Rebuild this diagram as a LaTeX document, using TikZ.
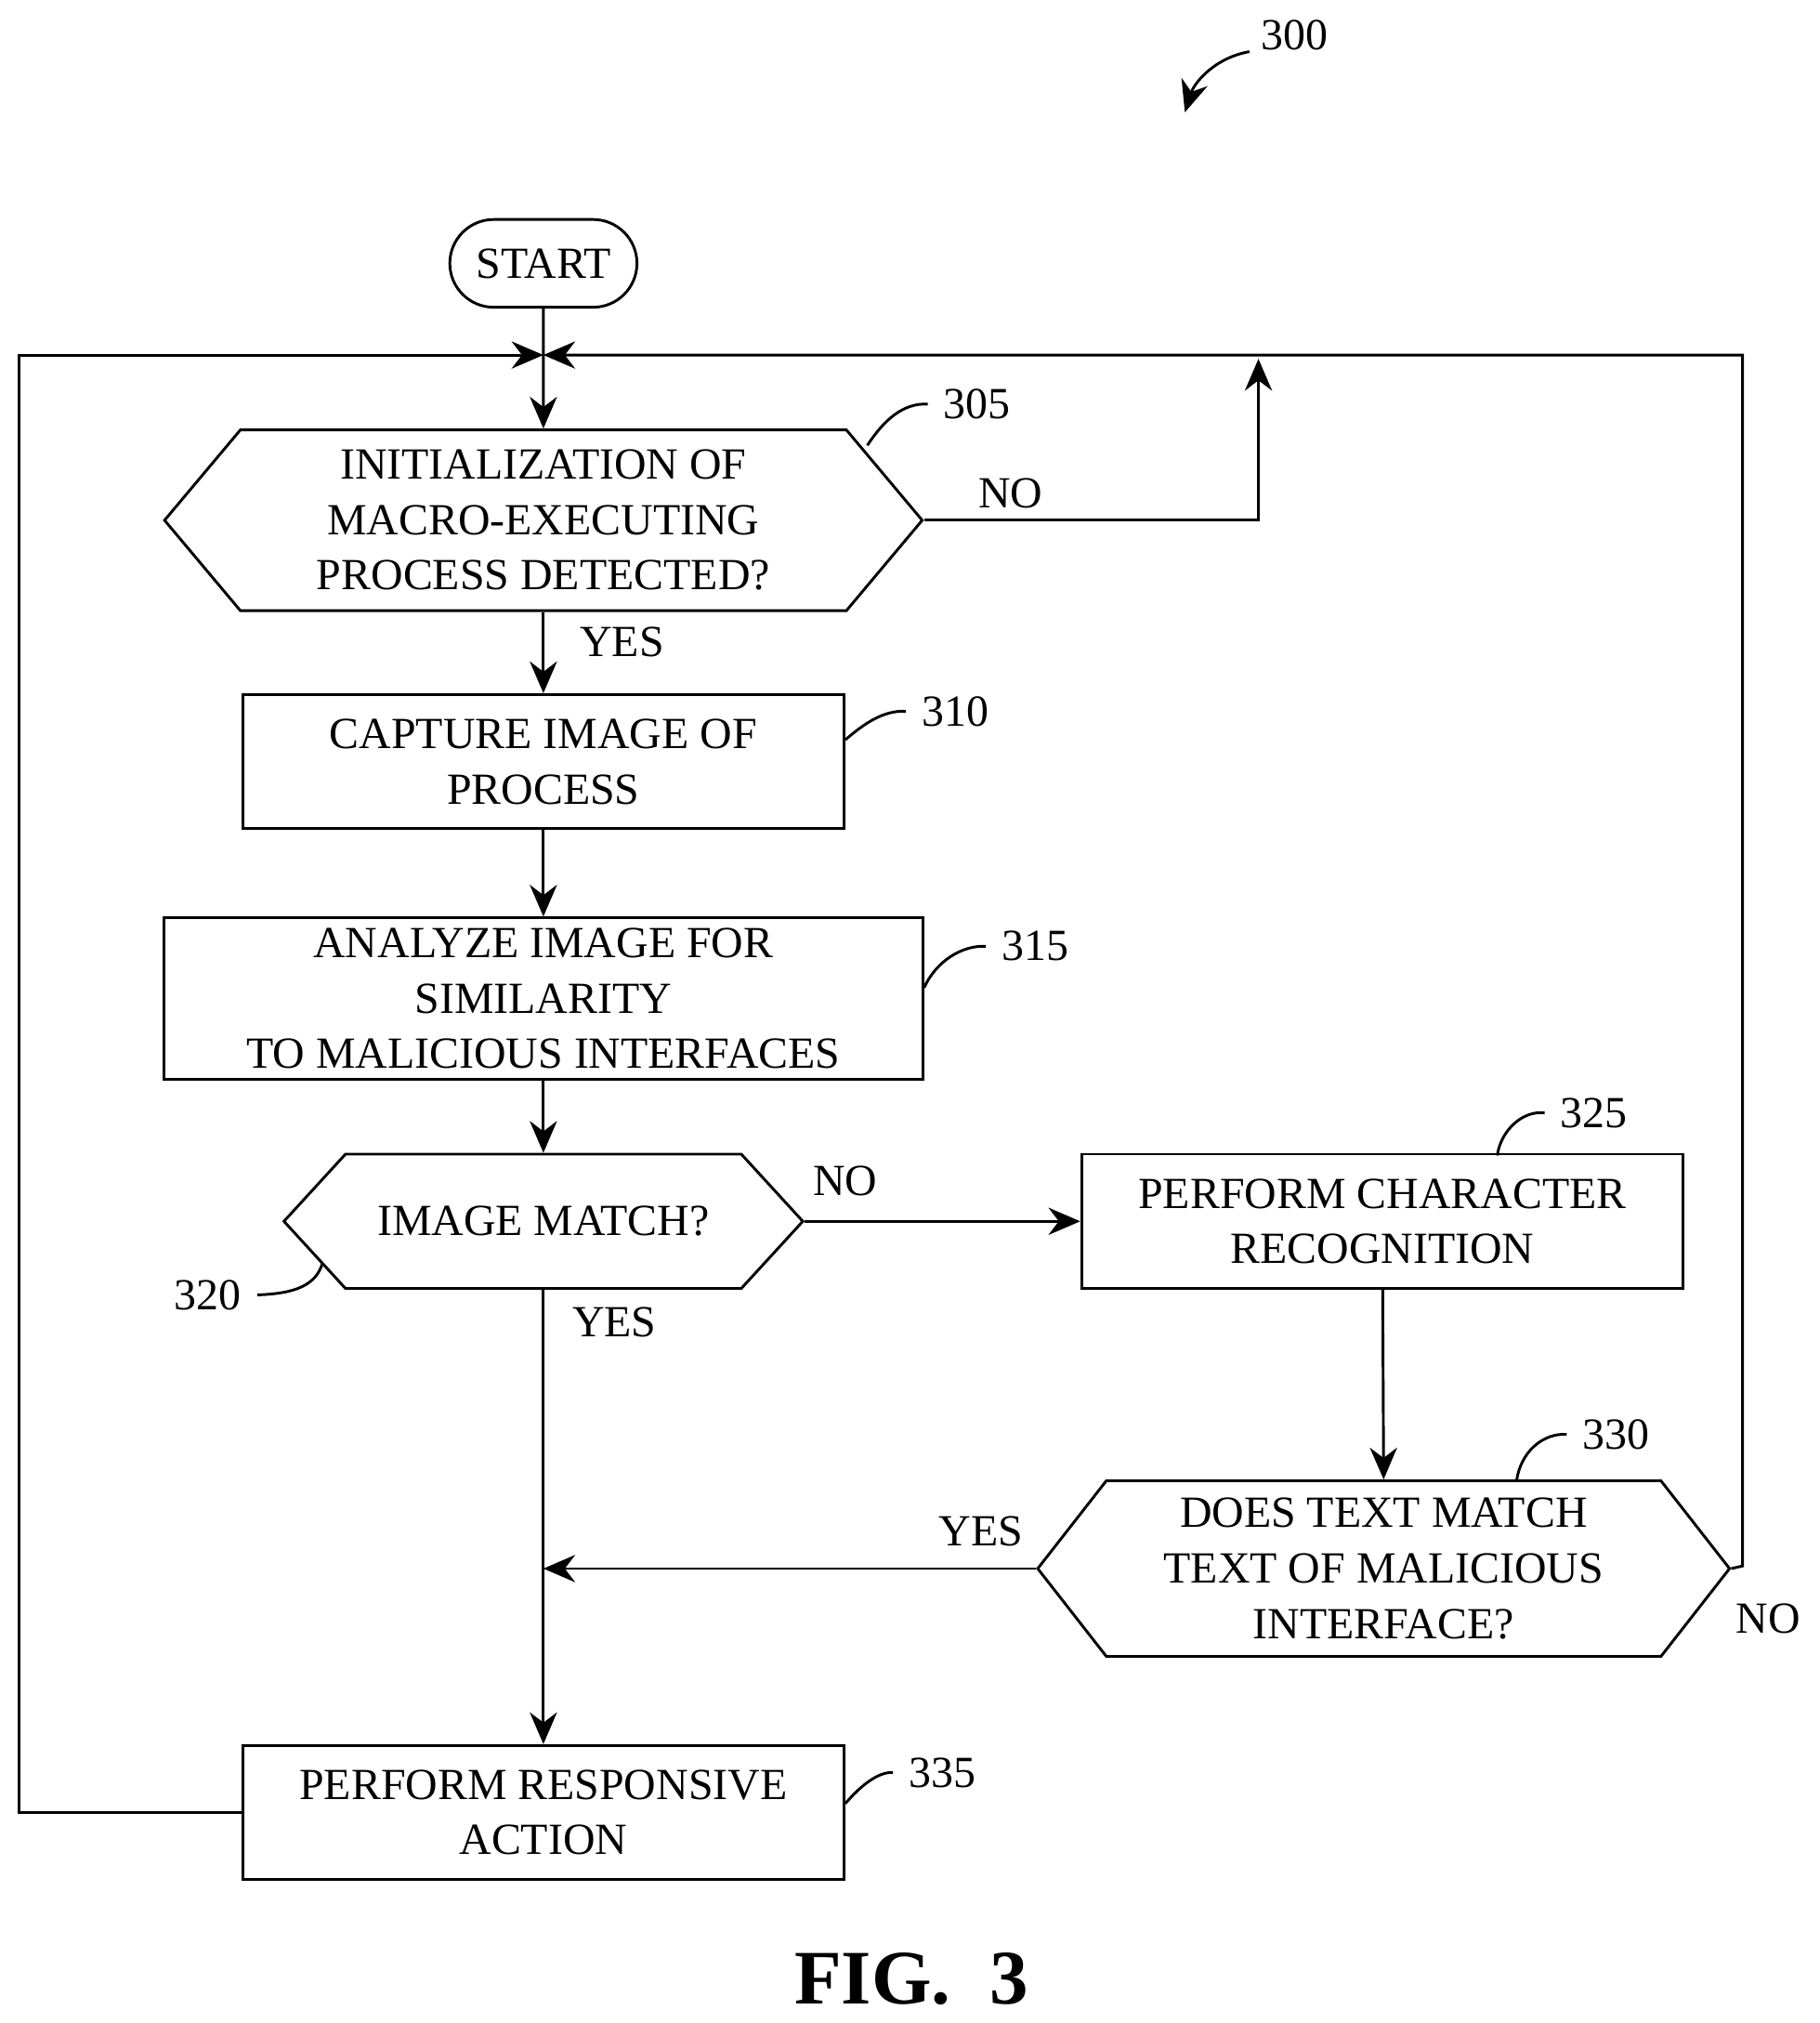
\documentclass[tikz,border=0pt]{standalone}
\usepackage{fontspec}
\setmainfont{Liberation Serif}
\usetikzlibrary{arrows.meta,shapes.symbols,shapes.misc}

\begin{document}
\begin{tikzpicture}[x=1cm,y=1cm,
  font=\fontsize{9.8}{12.2}\selectfont,
  >={Stealth[length=7pt,width=6pt]},
  line/.style={semithick},
  stepbox/.style={draw,semithick,rectangle,align=center,inner sep=0pt},
  test/.style={draw,semithick,signal,signal to=west and east,align=center,inner sep=0pt,signal pointer angle=100},
  tag/.style={semithick}]
\useasboundingbox (0,0) rectangle (14.10,-15.67);
% Knoten
\node[draw,semithick,rounded rectangle,minimum width=2.15cm,minimum height=0.68cm,inner xsep=0.35cm] (start) at (4.21,-2.04) {START};
\coordinate (join) at (4.21,-2.75);
\node[test,minimum width=5.87cm,minimum height=1.40cm] (detect) at (4.21,-4.03) {INITIALIZATION OF\\MACRO-EXECUTING\\PROCESS DETECTED?};
\node[stepbox,minimum width=4.66cm,minimum height=1.04cm] (capture) at (4.21,-5.90) {CAPTURE IMAGE OF\\PROCESS};
\node[stepbox,minimum width=5.88cm,minimum height=1.25cm] (analyze) at (4.21,-7.735) {ANALYZE IMAGE FOR\\SIMILARITY\\TO MALICIOUS INTERFACES};
\node[test,minimum width=4.02cm,minimum height=1.04cm,signal pointer angle=95] (imgmatch) at (4.21,-9.46) {IMAGE MATCH?};
\node[stepbox,minimum width=4.66cm,minimum height=1.04cm] (ocr) at (10.71,-9.46) {PERFORM CHARACTER\\RECOGNITION};
\node[test,minimum width=5.36cm,minimum height=1.36cm,signal pointer angle=104] (txtmatch) at (10.72,-12.15) {DOES TEXT MATCH\\TEXT OF MALICIOUS\\INTERFACE?};
\node[stepbox,minimum width=4.66cm,minimum height=1.04cm] (respond) at (4.21,-14.04) {PERFORM RESPONSIVE\\ACTION};
% Verbindungen
\coordinate (noup) at (9.75,-2.78);
\coordinate (merge) at (4.21,-12.15);
\draw[line,->] (start) -- (detect.north);
\draw[line,->] (detect.east) -- (9.75,-4.03) -- (noup);
\draw[line,->] (detect.south) -- (capture.north);
\draw[line,->] (capture) -- (analyze);
\draw[line,->] (analyze) -- (imgmatch.north);
\draw[line,->] (imgmatch.east) -- (ocr.west);
\draw[line,->] (imgmatch.south) -- (respond.north);
\draw[line,->] (ocr) -- (txtmatch.north);
\draw[line,->] (txtmatch.west) -- (merge);
\draw[line,->] (txtmatch.east) -- (13.50,-12.13) -- (13.50,-2.75) -- (join);
\draw[line,->] (respond.west) -- (0.15,-14.04) -- (0.15,-2.75) -- (join);
% Beschriftungen
\node (no1) at (7.83,-3.82) {NO};
\node (yes1) at (4.82,-4.97) {YES};
\node (no2) at (6.55,-9.15) {NO};
\node (yes2) at (4.76,-10.24) {YES};
\node (yes3) at (7.60,-11.86) {YES};
\node (no3) at (13.70,-12.54) {NO};
% Bezugszeichen
\node (r300) at (10.03,-0.27) {300};
\draw[tag,->] (9.68,-0.40) .. controls (9.40,-0.45) and (9.25,-0.65) .. (9.18,-0.87);
\node (r305) at (7.57,-3.13) {305};
\draw[tag] (r305.west) .. controls (7.00,-3.12) and (6.85,-3.25) .. (6.72,-3.45);
\node (r310) at (7.40,-5.51) {310};
\draw[tag] (r310.west) .. controls (6.85,-5.50) and (6.70,-5.60) .. (6.55,-5.73);
\node (r315) at (8.02,-7.33) {315};
\draw[tag] (r315.west) .. controls (7.45,-7.32) and (7.25,-7.45) .. (7.16,-7.65);
\node (r320) at (1.61,-10.03) {320};
\draw[tag] (r320.east) .. controls (2.30,-10.02) and (2.45,-9.95) .. (2.50,-9.78);
\node (r325) at (12.35,-8.62) {325};
\draw[tag] (r325.west) .. controls (11.80,-8.60) and (11.63,-8.75) .. (11.60,-8.95);
\node (r330) at (12.52,-11.11) {330};
\draw[tag] (r330.west) .. controls (11.95,-11.10) and (11.78,-11.25) .. (11.75,-11.47);
\node (r335) at (7.30,-13.73) {335};
\draw[tag] (r335.west) .. controls (6.80,-13.72) and (6.65,-13.85) .. (6.55,-13.97);
\node[font=\fontsize{17}{20}\selectfont\bfseries] (fig) at (7.06,-15.33) {FIG.\ \ 3};
\end{tikzpicture}
\end{document}
